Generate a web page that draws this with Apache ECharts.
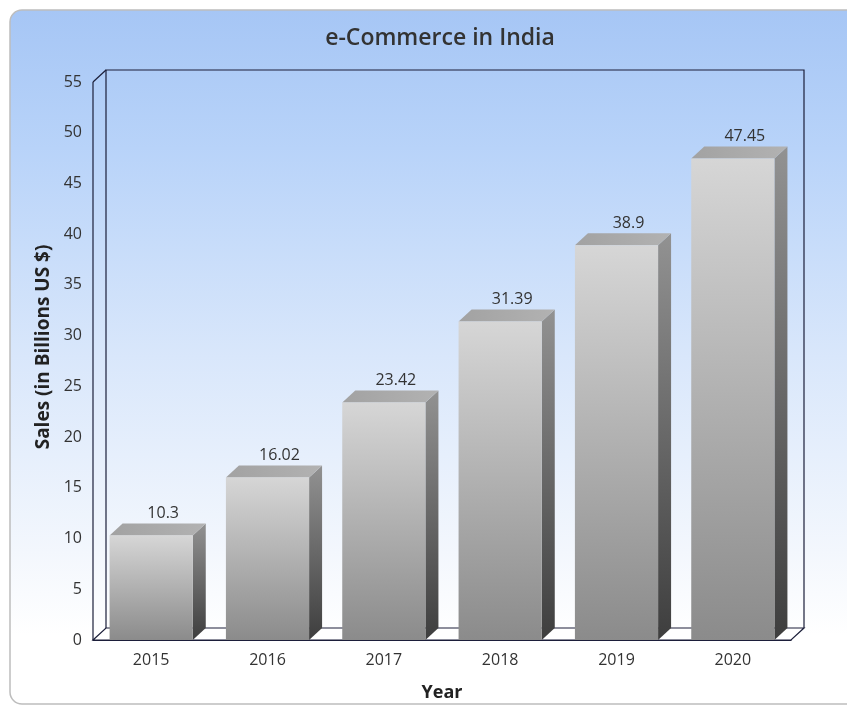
<!DOCTYPE html>
<html>
<head>
<meta charset="utf-8">
<style>
  html, body { margin: 0; padding: 0; background: #ffffff; }
  #chart { width: 847px; height: 707px; }
</style>
<script src="https://cdn.jsdelivr.net/npm/echarts@6/dist/echarts.min.js"></script>
</head>
<body>
<div id="chart"></div>
<script>
// e-Commerce sales in India by year
const years = ['2015', '2016', '2017', '2018', '2019', '2020'];
const sales = [10.3, 16.02, 23.42, 31.39, 38.9, 47.45];
const yTicks = [0, 5, 10, 15, 20, 25, 30, 35, 40, 45, 50, 55];

const FONT = '"Open Sans", "DejaVu Sans", sans-serif';
const DEPTH_X = 13;   // horizontal offset of the back plane
const DEPTH_Y = 12;   // vertical offset of the back plane
const LINE = '#1c1f3a';

const chart = echarts.init(document.getElementById('chart'), null, { renderer: 'canvas' });

// Box outline: back wall, left wall edges and floor
function renderFrame(params, api) {
  const r = params.coordSys;
  const x0 = r.x, y0 = r.y, x1 = r.x + r.width, y1 = r.y + r.height;
  const bx0 = x0 + DEPTH_X, by0 = y0 - DEPTH_Y, bx1 = x1 + DEPTH_X, by1 = y1 - DEPTH_Y;
  const ls = { stroke: LINE, lineWidth: 1.2, fill: null };
  return {
    type: 'group',
    children: [
      { type: 'polygon', shape: { points: [[x0, y1], [bx0, by1], [bx1, by1], [x1, y1]] },
        style: { fill: '#ffffff', stroke: LINE, lineWidth: 1.2 } },
      { type: 'polyline', shape: { points: [[bx0, by1], [bx0, by0], [bx1, by0], [bx1, by1]] }, style: ls },
      { type: 'line', shape: { x1: x0, y1: y0, x2: bx0, y2: by0 }, style: ls },
      { type: 'line', shape: { x1: x0, y1: y0, x2: x0, y2: y1 }, style: ls }
    ]
  };
}

// 3D-looking bar: front face, right side face, top face and value label
function renderBar(params, api) {
  const idx = api.value(0);
  const v = api.value(1);
  const top = api.coord([idx, v]);
  const base = api.coord([idx, 0]);
  const w = api.size([1, 0])[0] * 0.715;
  const l = top[0] - w / 2, r = top[0] + w / 2;
  const t = top[1], b = base[1];
  const G = echarts.graphic.LinearGradient;
  return {
    type: 'group',
    children: [
      { type: 'polygon',
        shape: { points: [[r, t], [r + DEPTH_X, t - DEPTH_Y], [r + DEPTH_X, b - DEPTH_Y], [r, b]] },
        style: { fill: new G(0, 0, 0, 1, [{ offset: 0, color: '#929292' }, { offset: 1, color: '#3e3e3e' }]) } },
      { type: 'polygon',
        shape: { points: [[l, t], [l + DEPTH_X, t - DEPTH_Y], [r + DEPTH_X, t - DEPTH_Y], [r, t]] },
        style: { fill: new G(0, 0, 1, 0, [{ offset: 0, color: '#a2a2a2' }, { offset: 1, color: '#b2b2b2' }]) } },
      { type: 'rect',
        shape: { x: l, y: t, width: w, height: b - t },
        style: { fill: new G(0, 0, 0, 1, [{ offset: 0, color: '#d6d6d6' }, { offset: 1, color: '#8b8b8b' }]) } },
      { type: 'text',
        x: top[0] + 12, y: t - DEPTH_Y - 2,
        style: { text: String(sales[idx]), fill: '#333333', font: '16px ' + FONT,
                 align: 'center', verticalAlign: 'bottom' } }
    ]
  };
}

chart.setOption({
  animation: false,
  backgroundColor: 'transparent',
  graphic: [
    { type: 'rect', z: -10, silent: true,
      shape: { x: 10, y: 10, width: 860, height: 694, r: 12 },
      style: {
        fill: new echarts.graphic.LinearGradient(0, 0, 0, 1, [
          { offset: 0, color: '#a6c6f5' },
          { offset: 0.2, color: '#b8d3f9' },
          { offset: 0.5, color: '#d9e7fb' },
          { offset: 0.78, color: '#f3f7fd' },
          { offset: 0.9, color: '#ffffff' },
          { offset: 1, color: '#ffffff' }
        ]),
        stroke: '#bdbdbd', lineWidth: 1.5
      } },
    { type: 'text', z: 10, x: 44, y: 347, rotation: Math.PI / 2,
      style: { text: 'Sales (in Billions US $)', fill: '#222222', font: 'bold 19px ' + FONT,
               align: 'center', verticalAlign: 'middle' } }
  ],
  title: {
    text: 'e-Commerce in India',
    left: 435, top: 22, textAlign: 'center',
    textStyle: { fontFamily: FONT, fontSize: 23, fontWeight: 600, color: '#333333' }
  },
  grid: { left: 93, right: 56, top: 82, bottom: 65 },
  xAxis: {
    type: 'category',
    data: years,
    name: 'Year',
    nameLocation: 'middle',
    nameGap: 44,
    nameTextStyle: { fontFamily: FONT, fontSize: 18, fontWeight: 'bold', color: '#222222' },
    axisLine: { show: true, lineStyle: { color: LINE, width: 1.2 } },
    axisTick: { show: false },
    axisLabel: { fontFamily: FONT, fontSize: 16, color: '#333333', margin: 12 },
    splitLine: { show: false }
  },
  yAxis: {
    type: 'value',
    min: 0, max: 55, interval: 5,
    axisLine: { show: false },
    axisTick: { show: false },
    axisLabel: { fontFamily: FONT, fontSize: 16, color: '#333333', margin: 11,
                 formatter: v => (yTicks.indexOf(v) >= 0 ? String(v) : '') },
    splitLine: { show: false }
  },
  series: [
    { type: 'custom', name: 'frame', renderItem: renderFrame, data: [[0, 0]], z: 1, silent: true },
    { type: 'custom', name: 'Sales', renderItem: renderBar,
      data: sales.map((v, i) => [i, v]), z: 3,
      encode: { x: 0, y: 1 } }
  ]
});
</script>
</body>
</html>
